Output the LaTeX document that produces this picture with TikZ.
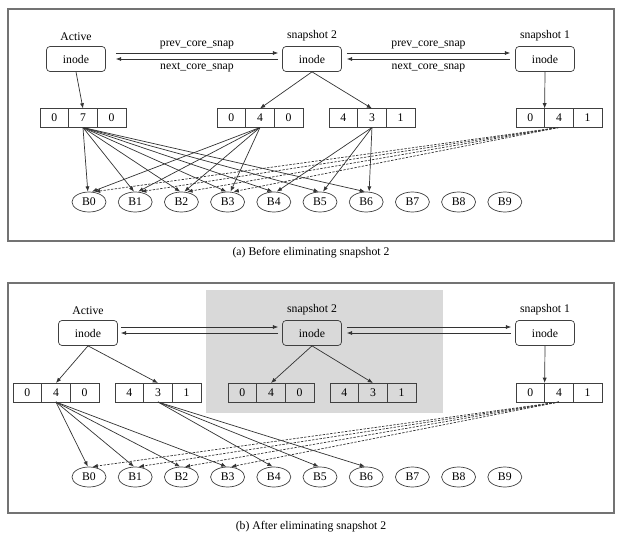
\documentclass[tikz,border=0pt]{standalone}
\usepackage{fontspec}
\setmainfont{Liberation Serif}
\usetikzlibrary{shapes.geometric, arrows.meta, positioning}
\tikzstyle{ptr} = [line width=0.6pt, draw=black!80, -{Latex[length=4.5pt,width=3.5pt]}]
\tikzstyle{dptr} = [ptr, dash pattern=on 2pt off 1.2pt]

\begin{document}
\begin{tikzpicture}[x=0.03cm, y=-0.03cm,
    font=\fontsize{10}{12}\selectfont,
    node distance=0pt,
    inodebox/.style={rectangle, rounded corners=3pt, draw=black!75, line width=0.6pt, minimum width=1.77cm, minimum height=0.75cm},
    slot/.style={rectangle, draw=black!75, line width=0.6pt, minimum width=0.86cm, minimum height=0.57cm, inner sep=0pt, outer sep=0pt},
    blk/.style={ellipse, draw=black!75, line width=0.6pt, minimum width=1.02cm, minimum height=0.6cm, inner sep=0pt},
    panel/.style={draw=black!55, line width=1pt}
  ]
    \useasboundingbox (0,0) rectangle (619,536);

    % Frames, shaded area and captions
    \draw[panel] (8,9) rectangle (614,241);
    \draw[panel] (8,283) rectangle (614,513);
    \fill[gray!30] (206,290) rectangle (443,413);
    \node (capA) at (311,253) {(a) Before eliminating snapshot 2};
    \node (capB) at (311,527) {(b) After eliminating snapshot 2};

    % (a) inodes
    \node[inodebox] (tAct) at (76,59) {inode};
    \node[inodebox] (tS2)  at (312,59) {inode};
    \node[inodebox] (tS1)  at (545,59) {inode};
    \node[above=1pt of tAct] (tActL) {Active};
    \node[above=1pt of tS2]  (tS2L)  {snapshot 2};
    \node[above=1pt of tS1]  (tS1L)  {snapshot 1};

    % (a) block arrays
    \node[slot] (ta1) at (54.3,118) {0};
    \node[slot, right=of ta1] (ta2) {7};
    \node[slot, right=of ta2] (ta3) {0};
    \node[slot] (tp1) at (231.3,118) {0};
    \node[slot, right=of tp1] (tp2) {4};
    \node[slot, right=of tp2] (tp3) {0};
    \node[slot] (tq1) at (343.3,118) {4};
    \node[slot, right=of tq1] (tq2) {3};
    \node[slot, right=of tq2] (tq3) {1};
    \node[slot] (tr1) at (530.3,118) {0};
    \node[slot, right=of tr1] (tr2) {4};
    \node[slot, right=of tr2] (tr3) {1};

    % (b) inodes
    \node[inodebox] (bAct) at (88,333) {inode};
    \node[inodebox] (bS2)  at (312,333) {inode};
    \node[inodebox] (bS1)  at (545,333) {inode};
    \node[above=1pt of bAct] (bActL) {Active};
    \node[above=1pt of bS2]  (bS2L)  {snapshot 2};
    \node[above=1pt of bS1]  (bS1L)  {snapshot 1};

    % (b) block arrays
    \node[slot] (ba1) at (27.3,392.5) {0};
    \node[slot, right=of ba1] (ba2) {4};
    \node[slot, right=of ba2] (ba3) {0};
    \node[slot] (bc1) at (129.3,392.5) {4};
    \node[slot, right=of bc1] (bc2) {3};
    \node[slot, right=of bc2] (bc3) {1};
    \node[slot] (bp1) at (242.3,392.5) {0};
    \node[slot, right=of bp1] (bp2) {4};
    \node[slot, right=of bp2] (bp3) {0};
    \node[slot] (bq1) at (344.3,392.5) {4};
    \node[slot, right=of bq1] (bq2) {3};
    \node[slot, right=of bq2] (bq3) {1};
    \node[slot] (br1) at (530.3,392.5) {0};
    \node[slot, right=of br1] (br2) {4};
    \node[slot, right=of br2] (br3) {1};

    % Data blocks
    \foreach \i in {0,...,9} {
      \node[blk] (tblk\i) at ({89+46.2*\i},202) {B\i};
      \node[blk] (bblk\i) at ({89+46.2*\i},477) {B\i};
    }

    % (a) snapshot links
    \draw[ptr] ([xshift=0.3cm, yshift=0.18cm]tAct.east) -- ([xshift=-0.12cm, yshift=0.18cm]tS2.west)
      node[midway, above] (tPrev1) {prev\_core\_snap};
    \draw[ptr] ([xshift=-0.12cm]tS2.west) -- ([xshift=0.3cm]tAct.east)
      node[midway, below] (tNext1) {next\_core\_snap};
    \draw[ptr] ([xshift=0.15cm, yshift=0.18cm]tS2.east) -- ([xshift=-0.15cm, yshift=0.18cm]tS1.west)
      node[midway, above] (tPrev2) {prev\_core\_snap};
    \draw[ptr] ([xshift=-0.15cm]tS1.west) -- ([xshift=0.15cm]tS2.east)
      node[midway, below] (tNext2) {next\_core\_snap};

    % (a) inode to arrays
    \draw[ptr] (tAct.south) -- (ta2.north);
    \draw[ptr] (tS2.south) -- (tp2.north);
    \draw[ptr] (tS2.south) -- (tq2.north);
    \draw[ptr] (tS1.south) -- (tr2.north west);

    % (a) arrays to blocks
    \foreach \j in {0,...,6} \draw[ptr] (ta2.south) -- ([xshift=-1pt]tblk\j.north);
    \foreach \j in {0,...,3} \draw[ptr] (tp2.south) -- ([xshift=2.5pt]tblk\j.north);
    \foreach \j in {4,5,6} \draw[ptr] (tq2.south) -- ([xshift=2.5pt]tblk\j.north);
    \foreach \j in {0,...,3} \draw[dptr] (tr2.south) -- ([xshift=5pt]tblk\j.north);

    % (b) snapshot links
    \draw[ptr] ([xshift=0.09cm, yshift=0.18cm]bAct.east) -- ([xshift=-0.12cm, yshift=0.18cm]bS2.west);
    \draw[ptr] ([xshift=-0.12cm]bS2.west) -- ([xshift=0.09cm]bAct.east);
    \draw[ptr] ([xshift=0.15cm, yshift=0.18cm]bS2.east) -- ([xshift=-0.12cm, yshift=0.18cm]bS1.west);
    \draw[ptr] ([xshift=-0.12cm]bS1.west) -- ([xshift=0.15cm]bS2.east);

    % (b) inode to arrays
    \draw[ptr] (bAct.south) -- (ba2.north);
    \draw[ptr] (bAct.south) -- (bc2.north);
    \draw[ptr] (bS2.south) -- (bp2.north);
    \draw[ptr] (bS2.south) -- (bq2.north);
    \draw[ptr] (bS1.south) -- (br2.north west);

    % (b) arrays to blocks
    \foreach \j in {0,...,3} \draw[ptr] (ba2.south) -- ([xshift=-1pt]bblk\j.north);
    \foreach \j in {4,5,6} \draw[ptr] (bc2.south) -- ([xshift=-1pt]bblk\j.north);
    \foreach \j in {0,...,3} \draw[dptr] (br2.south) -- ([xshift=3pt]bblk\j.north);
\end{tikzpicture}
\end{document}
